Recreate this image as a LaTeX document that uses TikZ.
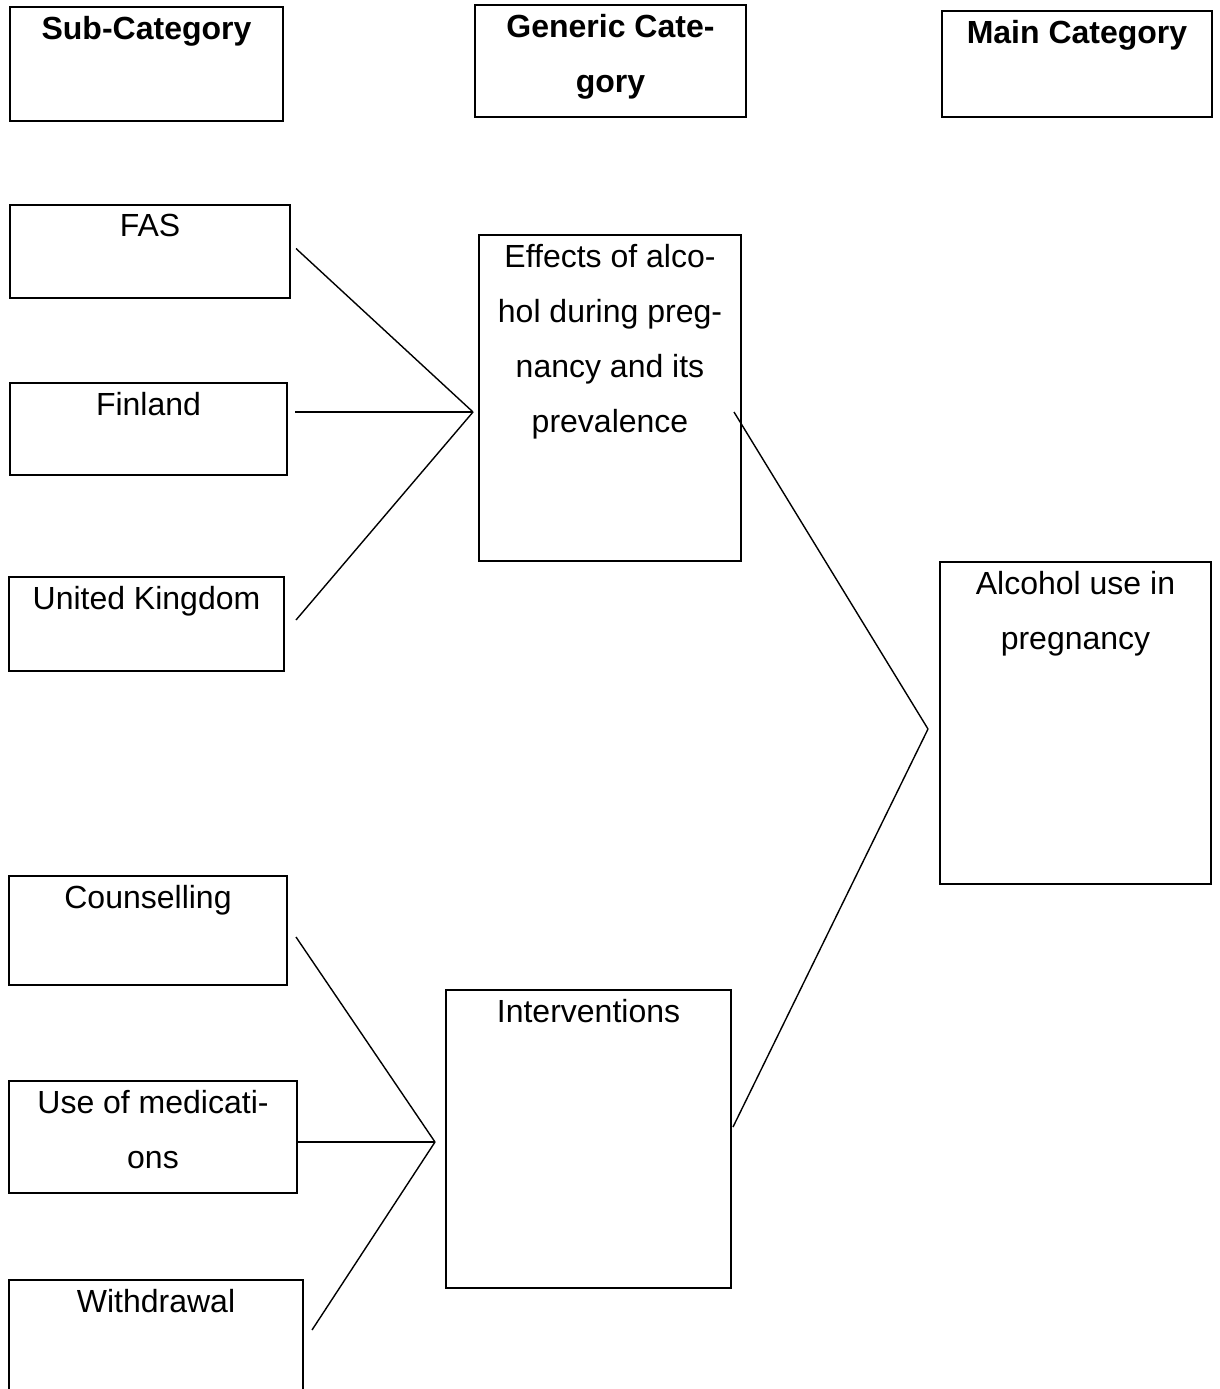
\documentclass[tikz,border=0pt]{standalone}
\usepackage{fontspec}
\setmainfont{Liberation Sans}
\usepackage{tikz}

\tikzset{
  box/.style 2 args={draw, line width=1pt, minimum width=#1*0.5pt, minimum height=#2*0.5pt, inner sep=0pt, outer sep=0pt},
  boxtext/.style={anchor=north, align=center, inner sep=0pt, yshift=-4.5pt, font=\fontsize{16}{27.5}\selectfont},
  headtext/.style={boxtext, font=\fontsize{16}{27.5}\selectfont\bfseries},
  link/.style={line width=0.7pt},
}

\begin{document}
\begin{tikzpicture}[x=0.5pt, y=-0.5pt]
        \clip (0,0) rectangle (1220,1389);

        % Column headings
        \node[box={273}{114}, label={[headtext]north:Sub-Category}] (subhead) at (146.5,64) {};
        \node[box={271}{112}, label={[headtext]north:Generic Cate-\\gory}] (genhead) at (610.5,61) {};
        \node[box={270}{106}, label={[headtext]north:Main Category}] (mainhead) at (1077,64) {};

        % Sub-categories, upper group
        \node[box={280}{93}, label={[boxtext]north:FAS}] (fas) at (150,251.5) {};
        \node[box={277}{92}, label={[boxtext]north:Finland}] (fin) at (148.5,429) {};
        \node[box={275}{94}, label={[boxtext]north:United Kingdom}] (uk) at (146.5,624) {};

        % Sub-categories, lower group
        \node[box={278}{109}, label={[boxtext]north:Counselling}] (couns) at (148,930.5) {};
        \node[box={288}{112}, label={[boxtext]north:Use of medicati-\\ons}] (meds) at (153,1137) {};
        \node[box={294}{130}, label={[boxtext]north:Withdrawal}] (withdr) at (156,1345) {};

        % Generic categories
        \node[box={262}{326}, label={[boxtext]north:Effects of alco-\\hol during preg-\\nancy and its\\prevalence}] (effects) at (610,398) {};
        \node[box={285}{298}, label={[boxtext]north:Interventions}] (interv) at (588.5,1139) {};

        % Main category
        \node[box={271}{322}, label={[boxtext]north:Alcohol use in\\pregnancy}] (alcohol) at (1075.5,723) {};

        % Junction points
        \coordinate (jeff) at (473,412);
        \coordinate (jint) at (435,1142);
        \coordinate (jalc) at (928,729);

        % Links
        \draw[link] ([xshift=3pt, yshift=1.5pt]fas.east) -- (jeff);
        \draw[link] ([xshift=4pt, yshift=8.5pt]fin.east) -- (jeff);
        \draw[link] ([xshift=6pt, yshift=2pt]uk.east) -- (jeff);
        \draw[link] ([xshift=4.5pt, yshift=-3.25pt]couns.east) -- (jint);
        \draw[link] ([xshift=-0.5pt, yshift=-2.5pt]meds.east) -- (jint);
        \draw[link] ([xshift=4.5pt, yshift=7.5pt]withdr.east) -- (jint);
        \draw[link] ([xshift=-3.5pt, yshift=-7pt]effects.east) -- (jalc);
        \draw[link] ([xshift=1pt, yshift=6pt]interv.east) -- (jalc);
    \end{tikzpicture}
\end{document}
